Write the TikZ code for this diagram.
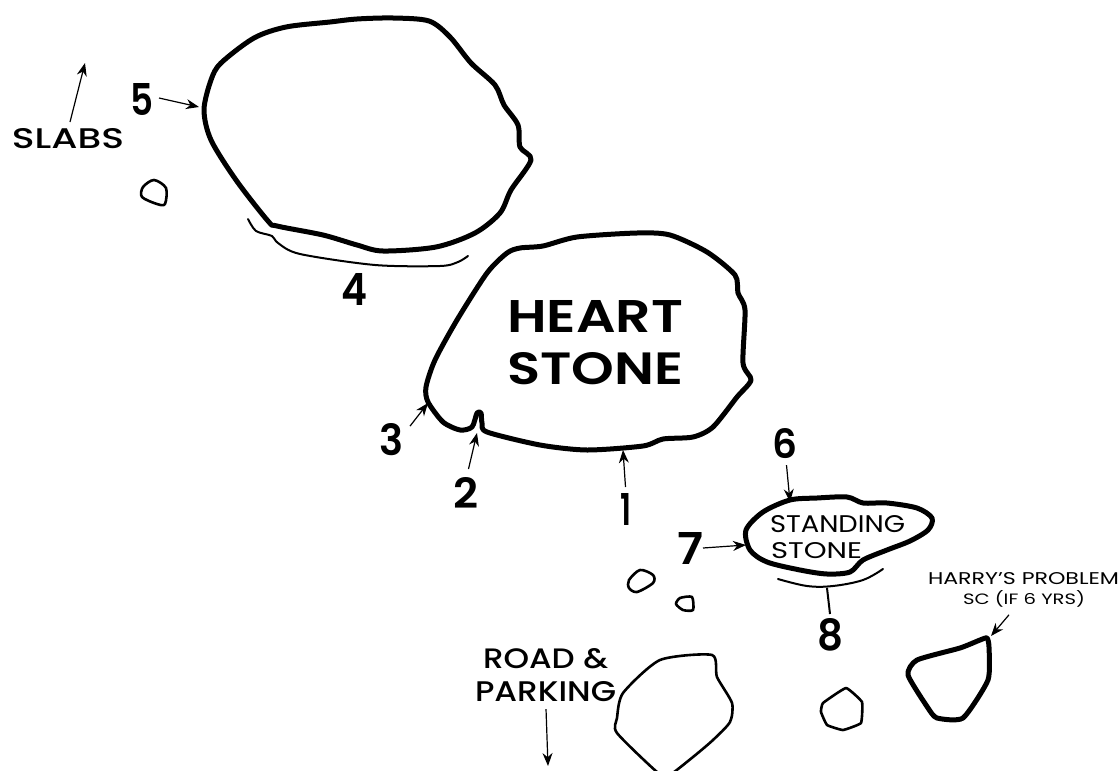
\documentclass[tikz,border=0pt]{standalone}
\usepackage{fontspec}
\usepackage{graphicx}
\setmainfont{Poppins}
\newfontfamily\medfont{Poppins Medium}
\newfontfamily\semifont{Poppins SemiBold}
\usetikzlibrary{arrows.meta}
\tikzset{
  bigstone/.style={draw=black,line width=5pt,line join=round},
  smallstone/.style={draw=black,line width=2.6pt,line join=round},
  arc line/.style={draw=black,line width=2pt,line cap=round},
  pointer/.style={draw=black,line width=1.2pt,-{Stealth[length=13pt,width=10pt]}},
  lab/.style={inner sep=0pt,outer sep=0pt,anchor=north west,text=black}
}
\newcommand{\fitto}[3]{\resizebox{#1pt}{#2pt}{#3}}
\begin{document}
\begin{tikzpicture}[x=1pt,y=-1pt]
\path[use as bounding box,fill=white] (0,0) rectangle (1120,771);
\clip (0,0) rectangle (1120,771);
% stones
\draw[bigstone] plot[smooth cycle,tension=0.5] coordinates {(357,19)(393,18)(429,21)(450,37)(471,63)(495,85)(504,105)(518,125)(520,147)(531,160)(511,190)(500,213)(475,233)(436,247)(383,251)(357,245)(323,235)(277,226)(268,221)(236,180)(211,140)(204,110)(211,80)(221,63)(254,38)(286,27)(330,22)};
\draw[bigstone] plot[smooth cycle,tension=0.45] coordinates {(543,246)(577,237)(637,233)(670,235)(707,252)(735,275)(738,293)(745,310)(743,363)(751,380)(737,397)(713,427)(693,437)(663,439)(643,446)(587,450)(540,445)(487,432)(482,423)(481,413)(477,413)(472,427)(460,430)(443,422)(428,402)(426,387)(435,360)(457,320)(487,273)(507,253)(520,248)};
\draw[bigstone] plot[smooth cycle,tension=0.5] coordinates {(790,500)(817,498)(847,497)(863,503)(887,503)(917,508)(932,518)(928,530)(910,541)(887,550)(863,560)(850,572)(827,574)(800,570)(767,562)(750,550)(746,530)(763,512)};
\draw[bigstone] plot[smooth cycle,tension=0.35] coordinates {(987,638)(989,647)(988,680)(963,718)(937,718)(928,708)(908,675)(917,660)(960,648)(980,640)};
\draw[smallstone] plot[smooth cycle,tension=0.4] coordinates {(660,660)(712,655)(717,677)(732,703)(730,722)(713,740)(693,757)(668,776)(657,772)(617,733)(617,718)(623,693)};
\draw[smallstone] plot[smooth cycle,tension=0.2] coordinates {(846,688)(862,702)(861,723)(843,730)(827,725)(821,712)(823,703)};
\draw[smallstone] plot[smooth cycle,tension=0.5] coordinates {(640,570)(653,575)(653,583)(637,592)(629,588)(629,580)};
\draw[smallstone] plot[smooth cycle,tension=0.4] coordinates {(692,597)(693,610)(683,610)(676,604)(680,598)};
\draw[smallstone] plot[smooth cycle,tension=0.5] coordinates {(154,180)(166,188)(165,204)(157,204)(142,197)(143,187)};
% arc lines
\draw[arc line] plot[smooth,tension=0.5] coordinates {(248,219)(256,231)(272,236)(278,243)(300,254)(375,265)(440,266)(458,262)(468,256)};
\draw[arc line] plot[smooth,tension=0.6] coordinates {(778,579)(807,586)(833,586)(863,580)(883,569)};
% labels
\node[lab] (slabs) at (12,128) {\fitto{112}{20}{\medfont SLABS}};
\node[lab] (n5) at (130,83) {\fitto{23}{32}{\semifont 5}};
\node[lab] (n4) at (341,273) {\fitto{26}{32}{\semifont 4}};
\node[lab] (heart) at (507,300) {\fitto{176}{32}{\semifont HEART}};
\node[lab] (stone) at (507,352) {\fitto{176}{32}{\semifont STONE}};
\node[lab] (n3) at (379,423) {\fitto{24}{32}{\semifont 3}};
\node[lab] (n2) at (453,477) {\fitto{25}{31}{\semifont 2}};
\node[lab] (n1) at (620,493) {\fitto{11}{32}{\semifont 1}};
\node[lab] (n6) at (772,428) {\fitto{25}{30}{\semifont 6}};
\node[lab] (standing) at (770,515) {\fitto{135}{17}{STANDING}};
\node[lab] (stone2) at (771,542) {\fitto{91}{16}{STONE}};
\node[lab] (n7) at (677,532) {\fitto{26}{32}{\semifont 7}};
\node[lab] (n8) at (817,618) {\fitto{26}{32}{\semifont 8}};
\node[lab] (harry) at (928,572) {\fitto{191}{12}{HARRY'S PROBLEM}};
\node[lab] (sc) at (963,590) {\fitto{122}{14}{SC (IF 6 YRS)}};
\node[lab] (road) at (483,648) {\fitto{125}{20}{\medfont ROAD \&}};
\node[lab] (parking) at (475,681) {\fitto{141}{20}{\medfont PARKING}};
% pointer targets
\coordinate (tslabs) at (85,63);
\coordinate (t5) at (199,107);
\coordinate (t3) at (428,403);
\coordinate (t2) at (477,433);
\coordinate (t1) at (623,450);
\coordinate (t6) at (790,502);
\coordinate (t7) at (746,545);
\coordinate (tharry) at (991,636);
\coordinate (troad) at (548,766);
\coordinate (t8) at (827,588);
% pointers
\draw[pointer] ([xshift=2pt,yshift=6pt]slabs.north) -- (tslabs);
\draw[pointer] ([xshift=6pt,yshift=1pt]n5.east) -- (t5);
\draw[pointer] ([xshift=7pt,yshift=13pt]n3.east) -- (t3);
\draw[pointer] ([xshift=3pt,yshift=8pt]n2.north) -- (t2);
\draw[pointer] ([xshift=0pt,yshift=6pt]n1.north) -- (t1);
\draw[pointer] ([xshift=2pt,yshift=-7pt]n6.south) -- (t6);
\draw[pointer] (n7.east) -- (t7);
\draw[pointer] ([xshift=-15pt,yshift=-8pt]sc.south) -- (tharry);
\draw[pointer] ([xshift=0.5pt,yshift=-8pt]parking.south) -- (troad);
\draw[line width=2pt] ([yshift=4pt]n8.north) -- (t8);
\end{tikzpicture}
\end{document}
